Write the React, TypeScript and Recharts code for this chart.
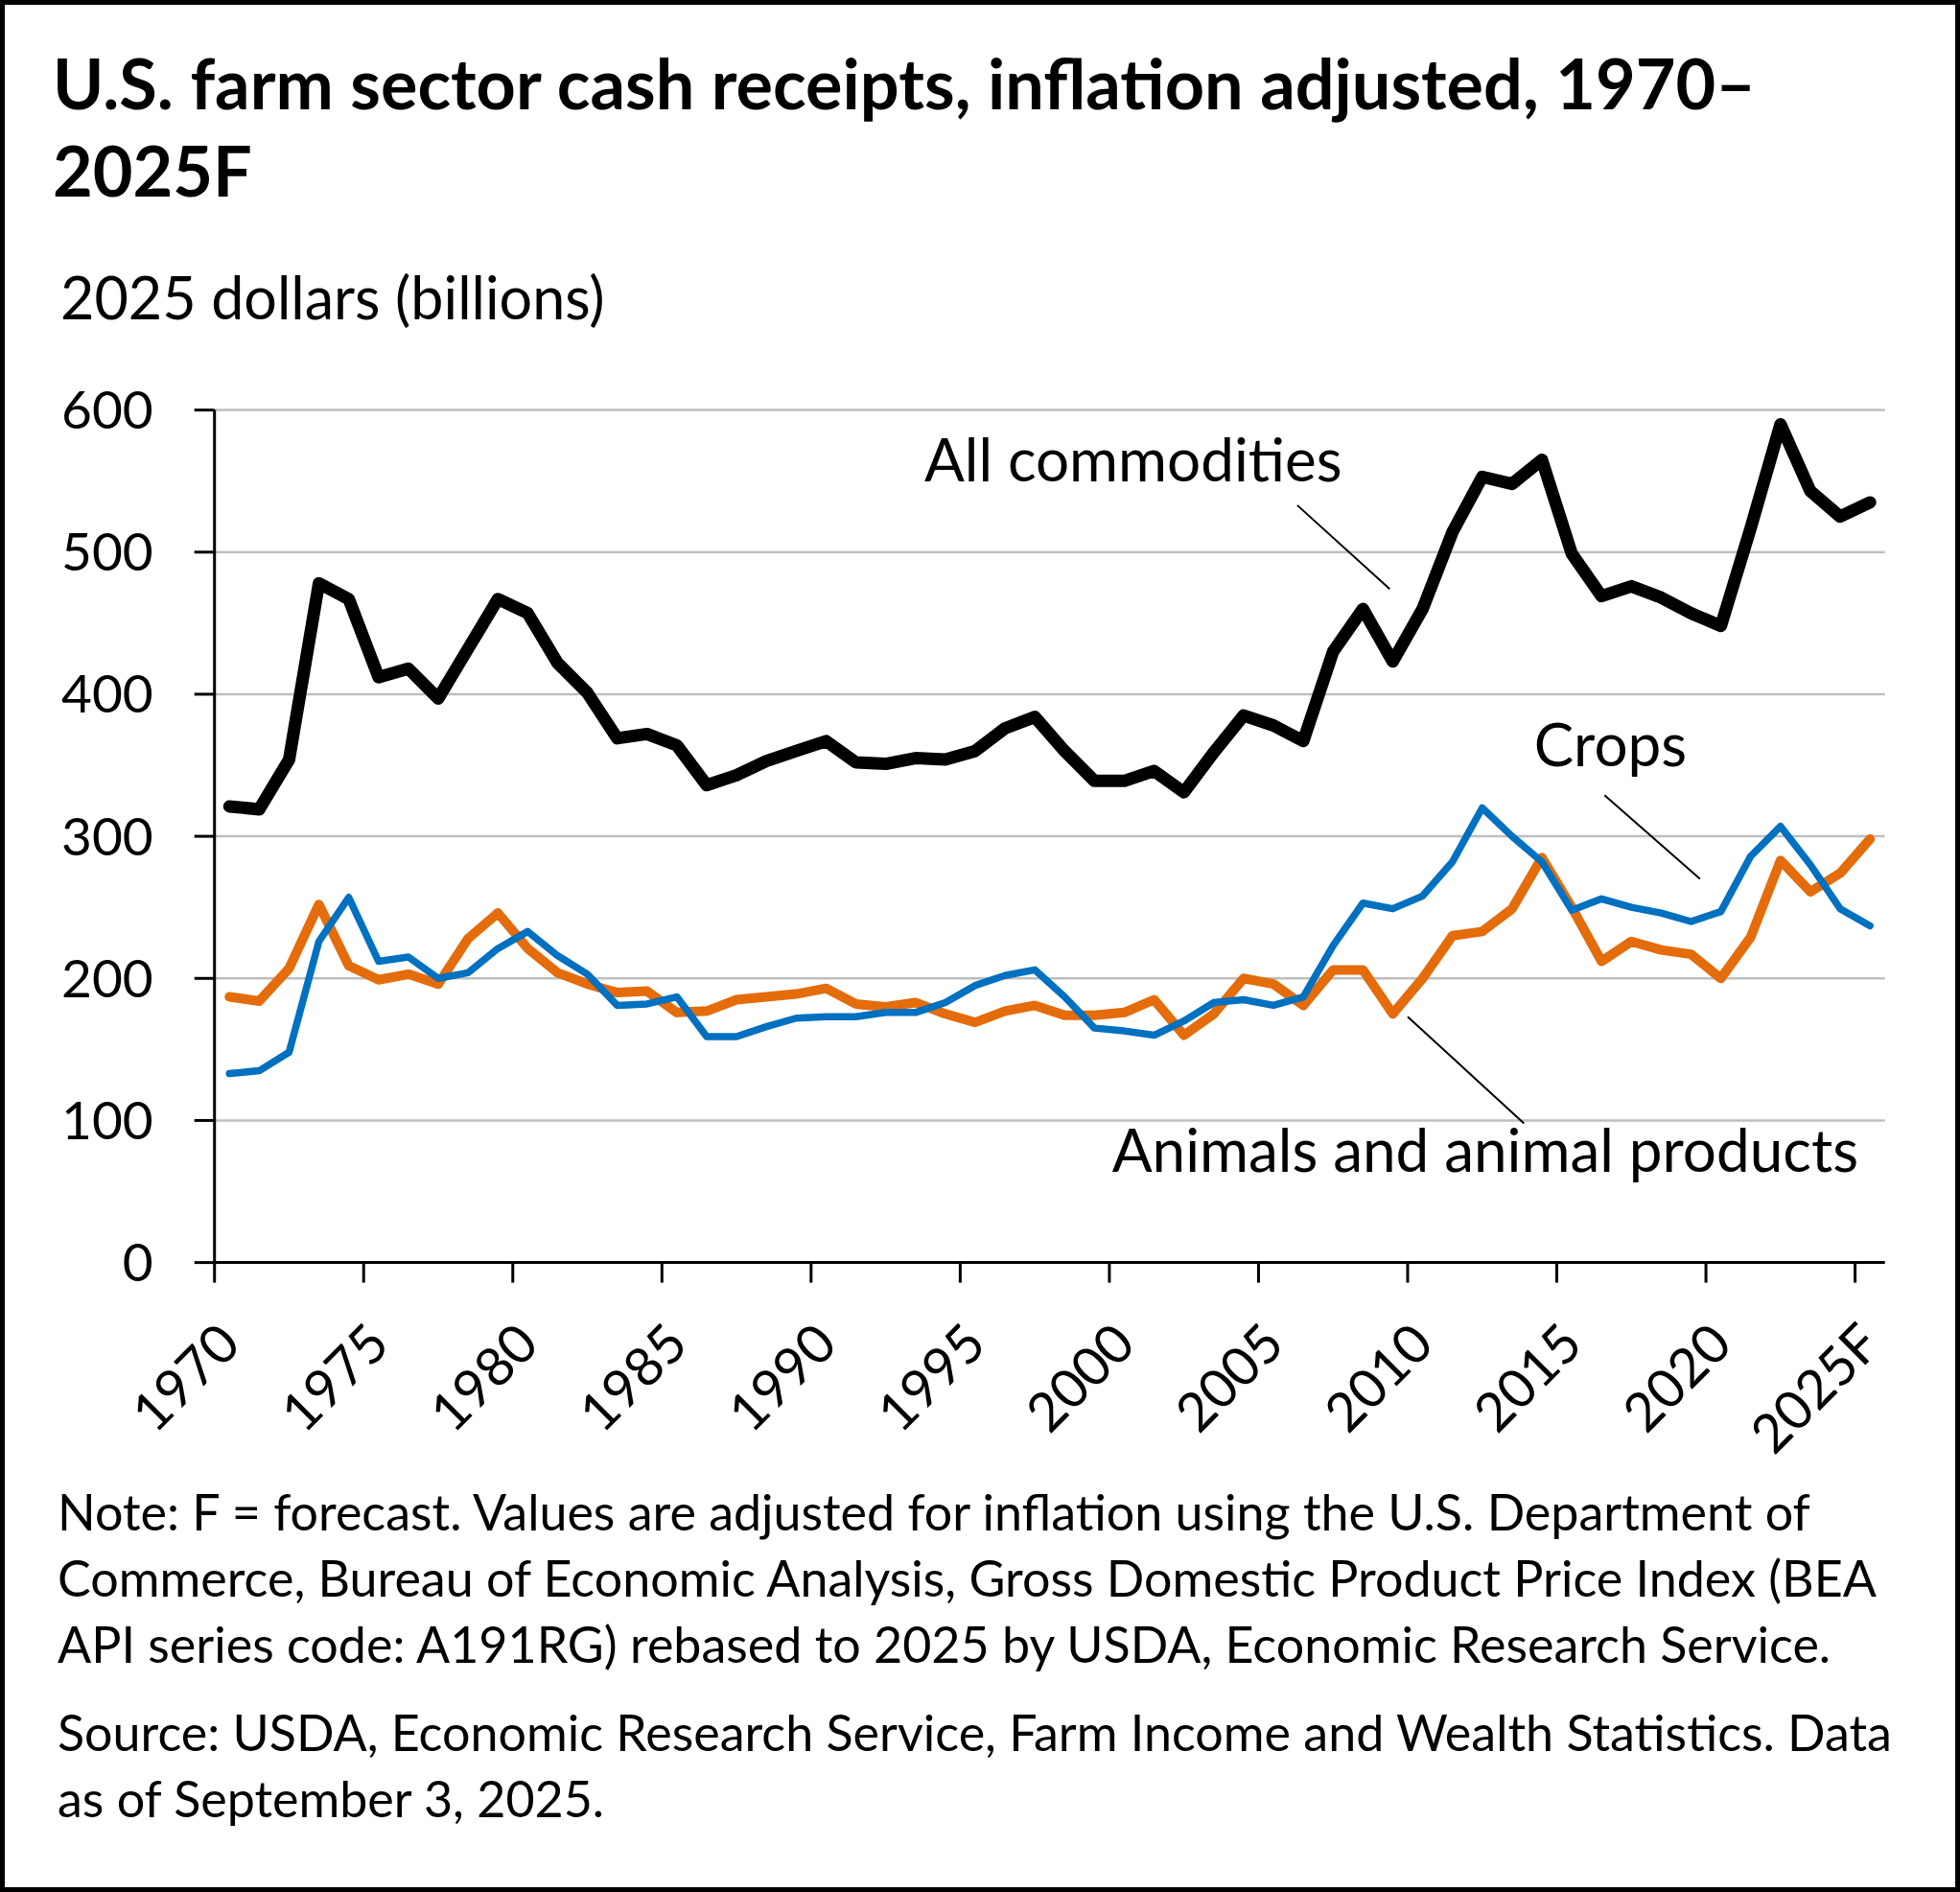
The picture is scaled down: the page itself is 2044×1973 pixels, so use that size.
import React from "react";
import {
  LineChart,
  Line,
  XAxis,
  YAxis,
  CartesianGrid,
  ReferenceLine,
  ReferenceDot,
} from "recharts";

const years = [
  1970, 1971, 1972, 1973, 1974, 1975, 1976, 1977, 1978, 1979,
  1980, 1981, 1982, 1983, 1984, 1985, 1986, 1987, 1988, 1989,
  1990, 1991, 1992, 1993, 1994, 1995, 1996, 1997, 1998, 1999,
  2000, 2001, 2002, 2003, 2004, 2005, 2006, 2007, 2008, 2009,
  2010, 2011, 2012, 2013, 2014, 2015, 2016, 2017, 2018, 2019,
  2020, 2021, 2022, 2023, 2024, 2025,
];

const allCommodities = [
  321, 319, 354, 478, 467, 412, 418, 397, 432, 467,
  457, 422, 401, 369, 372, 364, 336, 343, 353, 360,
  367, 352, 351, 355, 354, 360, 376, 384, 360, 339,
  339, 346, 331, 359, 385, 378, 367, 430, 460, 423,
  460, 514, 553, 548, 565, 499, 469, 476, 468, 457,
  448, 517, 590, 543, 525, 535,
];

const crops = [
  133, 135, 148, 226, 257, 212, 215, 200, 204, 221,
  233, 216, 203, 181, 182, 187, 159, 159, 166, 172,
  173, 173, 176, 176, 183, 195, 202, 206, 187, 165,
  163, 160, 170, 183, 185, 181, 187, 223, 253, 249,
  258, 282, 320, 300, 282, 248, 256, 250, 246, 240,
  247, 286, 307, 280, 249, 237,
];

const animals = [
  187, 184, 207, 252, 209, 199, 203, 196, 228, 246,
  221, 204, 196, 190, 191, 176, 177, 185, 187, 189,
  193, 182, 180, 183, 175, 169, 177, 181, 174, 174,
  176, 185, 160, 175, 200, 196, 181, 206, 206, 175,
  200, 230, 233, 249, 285, 250, 212, 226, 220, 217,
  200, 229, 283, 261, 274, 298,
];

const xTickYears = [1970, 1975, 1980, 1985, 1990, 1995, 2000, 2005, 2010, 2015, 2020, 2025];
const xTickLabels = ["1970", "1975", "1980", "1985", "1990", "1995", "2000", "2005", "2010", "2015", "2020", "2025F"];
const yTicks = [0, 100, 200, 300, 400, 500, 600];

const seriesLabels = [
  { text: "All commodities", x: 2000.3, y: 550 },
  { text: "Crops", x: 2016.3, y: 349 },
  { text: "Animals and animal products", x: 2012.1, y: 64 },
];

const leaders = [
  [{ x: 2005.8, y: 533 }, { x: 2008.9, y: 474 }],
  [{ x: 2016.1, y: 329 }, { x: 2019.3, y: 270 }],
  [{ x: 2009.5, y: 173 }, { x: 2013.4, y: 98 }],
];

const noteLines = [
  "Note: F = forecast. Values are adjusted for inflation using the U.S. Department of",
  "Commerce, Bureau of Economic Analysis, Gross Domestic Product Price Index (BEA",
  "API series code: A191RG) rebased to 2025 by USDA, Economic Research Service.",
];
const sourceLines = [
  "Source: USDA, Economic Research Service, Farm Income and Wealth Statistics. Data",
  "as of September 3, 2025.",
];

const W = 2044;
const H = 1973;
const PLOT_LEFT = 223.7;
const PLOT_RIGHT = 1965.7;
const PLOT_TOP = 427.6;
const PLOT_BOTTOM = 1316.6;
const X_AXIS_H = 100;
const X_MIN = 1969.5;
const X_MAX = 2025.5;
const HALF_BAND = (PLOT_RIGHT - PLOT_LEFT) / (X_MAX - X_MIN) / 2;

const data = years.map((year, i) => ({
  year,
  all: allCommodities[i],
  crops: crops[i],
  animals: animals[i],
}));

const FONT = "Lato, 'Open Sans', sans-serif";

function YearTick(props: any) {
  const { x, index } = props;
  return (
    <text
      transform={`translate(${x + HALF_BAND + 14}, ${PLOT_BOTTOM + 88}) rotate(-45)`}
      textAnchor="end"
      fontSize={56}
      fill="#000"
      fontFamily={FONT}
    >
      {xTickLabels[index]}
    </text>
  );
}

export default function App() {
  return (
    <div
      style={{
        position: "absolute",
        top: 0,
        left: 0,
        width: W,
        height: H,
        background: "#fff",
        fontFamily: FONT,
      }}
    >
      <LineChart
        width={W}
        height={H}
        data={data}
        margin={{
          top: PLOT_TOP,
          right: W - PLOT_RIGHT,
          bottom: H - PLOT_BOTTOM - X_AXIS_H,
          left: 0,
        }}
      >
        <CartesianGrid vertical={false} stroke="#BFBFBF" strokeWidth={2.5} />
        <XAxis
          dataKey="year"
          type="number"
          domain={[X_MIN, X_MAX]}
          ticks={xTickYears.map((y) => y - 0.5)}
          interval={0}
          height={X_AXIS_H}
          axisLine={{ stroke: "#000", strokeWidth: 3 }}
          tickLine={{ stroke: "#000", strokeWidth: 3 }}
          tickSize={21}
          tick={<YearTick />}
        />
        <YAxis
          type="number"
          domain={[0, 600]}
          ticks={yTicks}
          interval={0}
          width={PLOT_LEFT}
          axisLine={{ stroke: "#000", strokeWidth: 3 }}
          tickLine={{ stroke: "#000", strokeWidth: 3 }}
          tickSize={21}
          tickMargin={43}
          tick={{ fill: "#000", fontSize: 55, fontFamily: FONT }}
        />
        {leaders.map((seg, i) => (
          <ReferenceLine key={i} segment={seg} stroke="#000" strokeWidth={2} />
        ))}
        {seriesLabels.map((l) => (
          <ReferenceDot
            key={l.text}
            x={l.x}
            y={l.y}
            r={0}
            shape={(p: any) => (
              <text x={p.cx} y={p.cy} textAnchor="middle" fontSize={62} fill="#000" fontFamily={FONT}>
                {l.text}
              </text>
            )}
          />
        ))}
        <Line
          type="linear"
          dataKey="animals"
          stroke="#E46C0A"
          strokeWidth={10}
          strokeLinecap="round"
          strokeLinejoin="round"
          dot={false}
          activeDot={false}
          isAnimationActive={false}
        />
        <Line
          type="linear"
          dataKey="crops"
          stroke="#0070C0"
          strokeWidth={7.5}
          strokeLinecap="round"
          strokeLinejoin="round"
          dot={false}
          activeDot={false}
          isAnimationActive={false}
        />
        <Line
          type="linear"
          dataKey="all"
          stroke="#000"
          strokeWidth={13}
          strokeLinecap="round"
          strokeLinejoin="round"
          dot={false}
          activeDot={false}
          isAnimationActive={false}
        />
      </LineChart>

      <svg
        width={W}
        height={H}
        style={{ position: "absolute", top: 0, left: 0, pointerEvents: "none" }}
        fontFamily={FONT}
      >
        <text x={55} y={114} fontSize={72} fontWeight={700} fill="#000">
          U.S. farm sector cash receipts, inflation adjusted, 1970–
        </text>
        <text x={55} y={205} fontSize={72} fontWeight={700} fill="#000">
          2025F
        </text>
        <text x={63} y={333} fontSize={61} fill="#000">
          2025 dollars (billions)
        </text>
        {noteLines.map((t, i) => (
          <text key={t} x={60} y={1596 + i * 69} fontSize={52} fill="#000">
            {t}
          </text>
        ))}
        {sourceLines.map((t, i) => (
          <text key={t} x={60} y={1826 + i * 69} fontSize={52} fill="#000">
            {t}
          </text>
        ))}
        <rect x={2.5} y={2.5} width={W - 5} height={H - 5} fill="none" stroke="#000" strokeWidth={5} />
      </svg>
    </div>
  );
}
